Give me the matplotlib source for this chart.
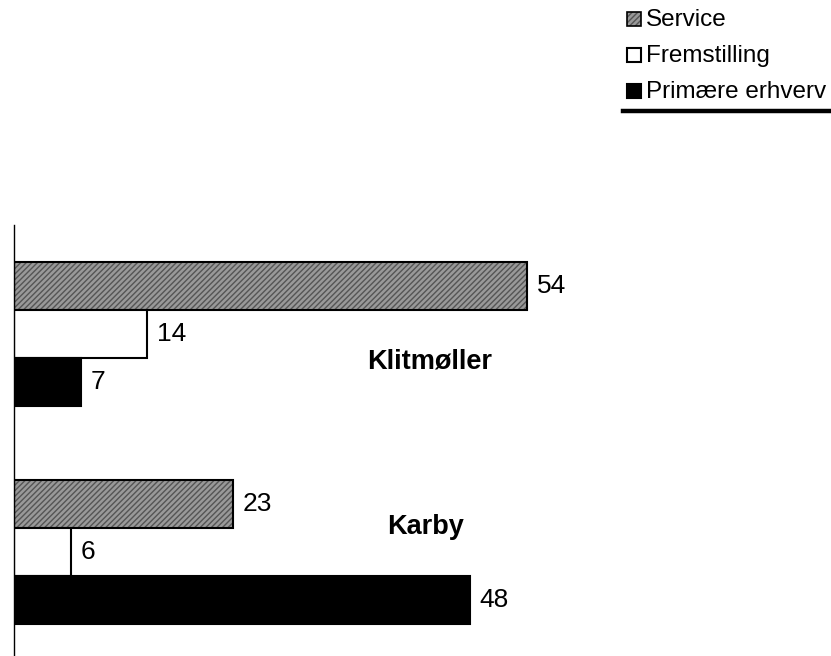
import numpy as np
import matplotlib.pyplot as plt
from matplotlib.patches import Rectangle
from matplotlib.lines import Line2D

plt.rcParams['font.family'] = ['Liberation Sans', 'DejaVu Sans']

# data
towns = ["Klitmøller", "Karby"]
sectors = ["Service", "Fremstilling", "Primære erhverv"]
service = [54, 23]
fremstilling = [14, 6]
primaere = [7, 48]

W, H = 831, 656
fig = plt.figure(figsize=(W / 100, H / 100), dpi=100)
# axes extends a little below the figure edge, like the original
ax = fig.add_axes([14 / W, -5 / H, 817 / W, 436 / H])

pos = np.arange(len(towns))
h = 0.22
series = [service, fremstilling, primaere]
faces = ["#999999", "white", "black"]
hatched = [True, False, False]

for i, (vals, fc) in enumerate(zip(series, faces)):
    y = pos + (i - 1) * h
    if hatched[i]:
        # fine diagonal pattern, then black outline on top
        ax.barh(y, vals, height=h, color=fc, hatch="//////",
                edgecolor="#555555", linewidth=0)
        ax.barh(y, vals, height=h, fill=False, edgecolor="black", linewidth=1.5)
    else:
        ax.barh(y, vals, height=h, color=fc, edgecolor="black", linewidth=1.5)
    for yy, v in zip(y, vals):
        ax.annotate(str(v), (v, yy), xytext=(7, 0), textcoords="offset points",
                    ha="left", va="center", fontsize=19)

# town names inside the plot area
ax.text(43.7, pos[0] + 0.156, towns[0], ha="center", va="baseline",
        fontsize=19.5, fontweight="bold")
ax.text(43.3, pos[1] - 0.083, towns[1], ha="center", va="baseline",
        fontsize=19.5, fontweight="bold")

ax.set_xlim(0, 86)
ax.set_ylim(-0.5, 1.5)
ax.invert_yaxis()
for s in ["top", "right", "bottom"]:
    ax.spines[s].set_visible(False)
ax.spines["left"].set_linewidth(1)
ax.set_xticks([])
ax.set_yticks([])

# legend, drawn by hand in figure pixels
def fx(px):
    return px / W

def fy(py):
    return 1 - py / H

baselines = [26, 62, 98]
sq = 14
for label, fc, hat, base in zip(sectors, faces, hatched, baselines):
    if hat:
        fig.add_artist(Rectangle((fx(627), fy(base)), sq / W, sq / H, facecolor=fc,
                                 hatch="//////", edgecolor="#555555", linewidth=0,
                                 transform=fig.transFigure))
        fig.add_artist(Rectangle((fx(627), fy(base)), sq / W, sq / H, fill=False,
                                 edgecolor="black", linewidth=1.2,
                                 transform=fig.transFigure))
    else:
        fig.add_artist(Rectangle((fx(627), fy(base)), sq / W, sq / H, facecolor=fc,
                                 edgecolor="black", linewidth=1.5,
                                 transform=fig.transFigure))
    fig.text(fx(646), fy(base), label, ha="left", va="baseline", fontsize=17.5)

fig.add_artist(Line2D([fx(623), 1.0], [fy(111)] * 2, color="black",
                      linewidth=3.2, transform=fig.transFigure))

fig.savefig("out.png", dpi=100)
